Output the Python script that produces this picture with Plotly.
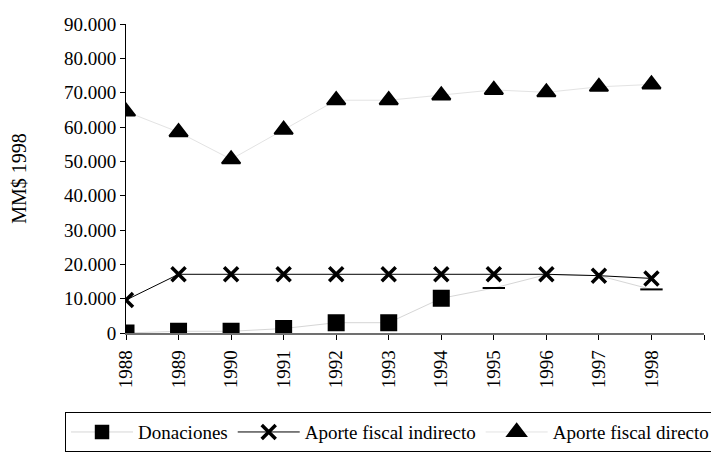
import plotly.graph_objects as go

years = [1988, 1989, 1990, 1991, 1992, 1993, 1994, 1995, 1996, 1997, 1998]
year_labels = [str(y) for y in years]

donaciones = [0, 500, 500, 1300, 3000, 3000, 10100, 13100, 17000, 16700, 12700]
aporte_indirecto = [9600, 17100, 17100, 17100, 17100, 17100, 17100, 17100, 17100, 16700, 15900]
aporte_directo = [64500, 58500, 50600, 59200, 67800, 67800, 69200, 70800, 70100, 71700, 72400]

y_ticks = [0, 10000, 20000, 30000, 40000, 50000, 60000, 70000, 80000, 90000]
y_tick_labels = ["0", "10.000", "20.000", "30.000", "40.000", "50.000",
                 "60.000", "70.000", "80.000", "90.000"]

FONT = "Liberation Serif"

don_symbols = ["square"] * 7 + ["line-ew", "square", "square", "line-ew"]
don_sizes = [15] * 7 + [16, 0, 0, 16]

fig = go.Figure()
fig.add_trace(go.Scatter(
    x=years, y=donaciones, name="Donaciones", mode="lines+markers",
    line=dict(color="#d6d6d6", width=1),
    marker=dict(symbol=don_symbols, size=don_sizes, color="#000000", opacity=1,
                line=dict(color="#000000", width=2)),
))
fig.add_trace(go.Scatter(
    x=years, y=aporte_indirecto, name="Aporte fiscal indirecto", mode="lines+markers",
    line=dict(color="black", width=1),
    marker=dict(symbol="x-thin-open", size=14, color="black",
                line=dict(color="black", width=3.5)),
))
fig.add_trace(go.Scatter(
    x=years, y=aporte_directo, name="Aporte fiscal directo", mode="lines+markers",
    line=dict(color="#e3e3e3", width=1),
    marker=dict(symbol="triangle-up", size=16, color="black",
                line=dict(color="black", width=2)),
))

# page body adds an 8px offset, so the figure is 8px smaller than the window
fig.update_layout(
    width=711, height=446,
    margin=dict(l=118, r=15, t=16, b=121, autoexpand=False),
    paper_bgcolor="white", plot_bgcolor="white",
    font=dict(family=FONT, size=18, color="black"),
    showlegend=True,
    legend=dict(orientation="h", x=-0.1055, xanchor="left", y=-0.256, yanchor="top",
                bordercolor="black", borderwidth=1, bgcolor="white",
                font=dict(family=FONT, size=19, color="black"),
                itemwidth=62, tracegroupgap=0),
)
fig.update_xaxes(
    range=[1988, 1999], tickmode="array",
    tickvals=years + [1999], ticktext=year_labels + [""],
    tickangle=-90, ticks="outside", ticklen=5, tickcolor="black",
    ticklabelstandoff=3,
    showline=True, linecolor="#707070", linewidth=1.5,
    showgrid=False, zeroline=False,
    tickfont=dict(family=FONT, size=19, color="black"),
)
fig.update_yaxes(
    range=[0, 90000], tickmode="array", tickvals=y_ticks, ticktext=y_tick_labels,
    ticks="outside", ticklen=5, tickcolor="black",
    showline=True, linecolor="black", linewidth=1,
    showgrid=False, zeroline=False,
    tickfont=dict(family=FONT, size=19, color="black"),
    title=dict(text="MM$ 1998", font=dict(family=FONT, size=20, color="black"), standoff=32),
)
fig.write_html("out.html")
